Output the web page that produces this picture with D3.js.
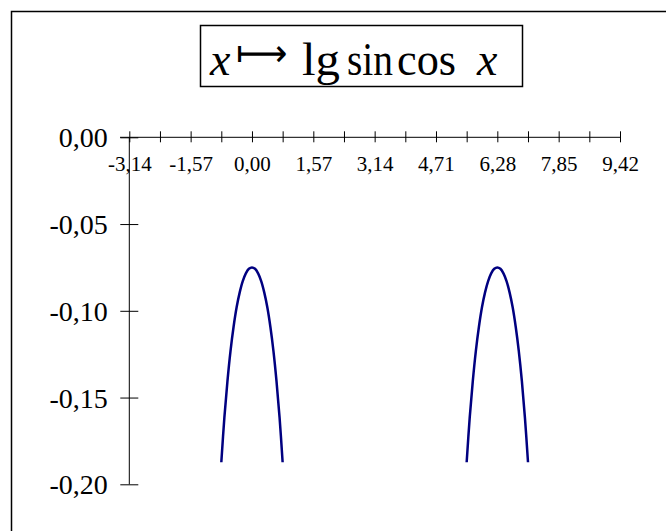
<!DOCTYPE html>
<html>
<head>
<meta charset="utf-8">
<script src="https://cdn.jsdelivr.net/npm/d3@7"></script>
<style>
  body { margin: 0; background: #fff; }
  text { font-family: "Liberation Serif", "Times New Roman", serif; fill: #000; }
</style>
</head>
<body>
<svg width="666" height="531"></svg>
<script>
// values (x in radians, y = lg sin cos x)
var hump1X = [-0.785, -0.707, -0.628, -0.550, -0.471, -0.393, -0.314, -0.236, -0.157, -0.079, 0.000,
              0.079, 0.157, 0.236, 0.314, 0.393, 0.471, 0.550, 0.628, 0.707, 0.785];
var hump1Y = [-0.1873, -0.1616, -0.1405, -0.1232, -0.1092, -0.0980, -0.0894, -0.0829, -0.0784, -0.0758, -0.0750,
              -0.0758, -0.0784, -0.0829, -0.0894, -0.0980, -0.1092, -0.1232, -0.1405, -0.1616, -0.1873];
var hump2X = [5.498, 5.576, 5.655, 5.733, 5.812, 5.890, 5.969, 6.048, 6.126, 6.205, 6.283,
              6.362, 6.440, 6.519, 6.597, 6.676, 6.754, 6.833, 6.912, 6.990, 7.069];
var hump2Y = [-0.1873, -0.1616, -0.1405, -0.1232, -0.1092, -0.0980, -0.0894, -0.0829, -0.0784, -0.0758, -0.0750,
              -0.0758, -0.0784, -0.0829, -0.0894, -0.0980, -0.1092, -0.1232, -0.1405, -0.1616, -0.1873];

var xTicks = [-3.1416, -2.3562, -1.5708, -0.7854, 0, 0.7854, 1.5708, 2.3562, 3.1416,
              3.9270, 4.7124, 5.4978, 6.2832, 7.0686, 7.8540, 8.6394, 9.4248];
var xTickLabels = ["-3,14", "", "-1,57", "", "0,00", "", "1,57", "", "3,14",
                   "", "4,71", "", "6,28", "", "7,85", "", "9,42"];
var yTicks = [0, -0.05, -0.10, -0.15, -0.20];
var yTickLabels = ["0,00", "-0,05", "-0,10", "-0,15", "-0,20"];

var svg = d3.select("svg");

// outer frame (runs off the right and bottom edge)
svg.append("rect")
    .attr("x", 11.5).attr("y", 11.5)
    .attr("width", 700).attr("height", 600)
    .style("fill", "none").style("stroke", "#000").style("stroke-width", "1.5px");

var x = d3.scaleLinear().domain([-Math.PI, 3 * Math.PI]).range([129.3, 620]);
var y = d3.scaleLinear().domain([0, -0.2]).range([137.3, 484.3]);

// title
svg.append("rect")
    .attr("x", 200.5).attr("y", 25.5)
    .attr("width", 322).attr("height", 61)
    .style("fill", "none").style("stroke", "#000").style("stroke-width", "1.5px");

var title = svg.append("text")
    .attr("y", 75)
    .style("font-size", "46px");
title.append("tspan").attr("x", 210).style("font-style", "italic").text("x");
title.append("tspan").attr("x", 236).attr("dy", -9)
    .style("font-family", "DejaVu Sans").style("font-weight", 200).style("font-size", "38px")
    .attr("textLength", 51).attr("lengthAdjust", "spacingAndGlyphs")
    .text("\u27FC");
title.append("tspan").attr("x", 302).attr("dy", 9)
    .attr("textLength", 38).attr("lengthAdjust", "spacingAndGlyphs").text("lg");
title.append("tspan").attr("x", 347)
    .attr("textLength", 46).attr("lengthAdjust", "spacingAndGlyphs").text("sin");
title.append("tspan").attr("x", 397)
    .attr("textLength", 59).attr("lengthAdjust", "spacingAndGlyphs").text("cos");
title.append("tspan").attr("x", 477).style("font-style", "italic").text("x");

// x axis
var xAxis = svg.append("g")
    .attr("transform", "translate(0," + y(0) + ")")
    .call(d3.axisBottom(x)
        .tickValues(xTicks)
        .tickSize(0)
        .tickPadding(0)
        .tickFormat(function(d, i) { return xTickLabels[i]; }));
xAxis.select(".domain").remove();
xAxis.append("line")
    .attr("x1", 120).attr("x2", x(3 * Math.PI))
    .style("stroke", "#000").style("stroke-width", "1px");
xAxis.selectAll(".tick line")
    .attr("y1", -6).attr("y2", 5)
    .style("stroke", "#000");
xAxis.selectAll(".tick text")
    .attr("y", 34).attr("dy", 0)
    .style("font-size", "21px")
    .style("font-family", "Liberation Serif");

// y axis
var yAxis = svg.append("g")
    .attr("transform", "translate(" + x(-Math.PI) + ",0)")
    .call(d3.axisLeft(y)
        .tickValues(yTicks)
        .tickSize(0)
        .tickPadding(0)
        .tickFormat(function(d, i) { return yTickLabels[i]; }));
yAxis.select(".domain").remove();
yAxis.append("line")
    .attr("y1", y(0)).attr("y2", y(-0.2))
    .style("stroke", "#000").style("stroke-width", "1px");
yAxis.selectAll(".tick line")
    .attr("x1", -9).attr("x2", 9)
    .style("stroke", "#000");
yAxis.selectAll(".tick text")
    .attr("x", -21.5).attr("dy", "0.34em")
    .style("text-anchor", "end")
    .style("font-size", "28px")
    .style("font-family", "Liberation Serif");

// curves
var line = d3.line()
    .x(function(d) { return x(d[0]); })
    .y(function(d) { return y(d[1]); })
    .curve(d3.curveCatmullRom);

[[hump1X, hump1Y], [hump2X, hump2Y]].forEach(function(h) {
    svg.append("path")
        .datum(d3.zip(h[0], h[1]))
        .attr("d", line)
        .style("fill", "none")
        .style("stroke", "#000080")
        .style("stroke-width", "2.5px");
});
</script>
</body>
</html>
